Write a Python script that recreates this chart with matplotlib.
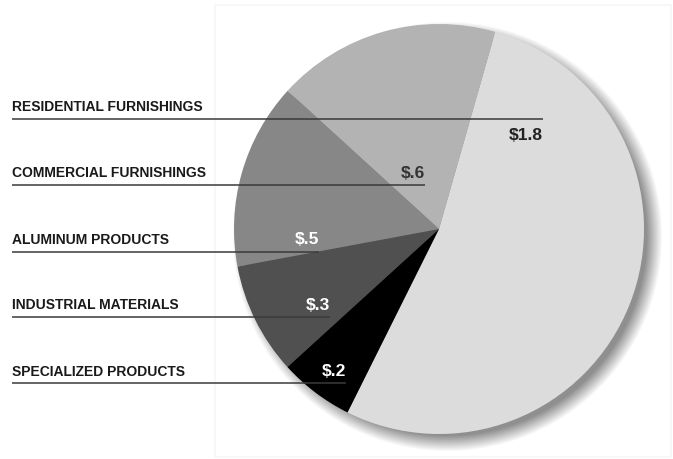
import matplotlib.pyplot as plt
import numpy as np
from matplotlib.patches import Rectangle

# segment data ($ billions)
categories = ["RESIDENTIAL FURNISHINGS", "COMMERCIAL FURNISHINGS", "ALUMINUM PRODUCTS",
              "INDUSTRIAL MATERIALS", "SPECIALIZED PRODUCTS"]
values = [1.8, 0.6, 0.5, 0.3, 0.2]
value_labels = ["$1.8", "$.6", "$.5", "$.3", "$.2"]
colors = ["#dcdcdc", "#b3b3b3", "#878787", "#505050", "#000000"]

W, H = 673, 460
CX, CY, R = 439, 230, 205

fig = plt.figure(figsize=(W / 100, H / 100), dpi=100)
ax = fig.add_axes([0, 0, 1, 1])

# faint frame behind the pie
ax.add_patch(Rectangle((215, 2), 456, 452, facecolor="white", edgecolor="#f6f6f6", lw=1.2, zorder=0))

# soft drop shadow
yy, xx = np.mgrid[0:H, 0:W]
d = np.hypot(xx - (CX + 8), yy - (CY - 8))
blur = 16
a = np.clip((R + 2 - d) / blur + 0.5, 0, 1) * 0.55
shadow = np.zeros((H, W, 4))
shadow[..., :3] = 0.2
shadow[..., 3] = a
ax.imshow(shadow, extent=(0, W, 0, H), origin="lower", zorder=1, interpolation="bilinear")

ax.pie(values, colors=colors, startangle=-116.5, counterclock=True, center=(CX, CY), radius=R,
       wedgeprops=dict(linewidth=0, zorder=2), frame=True)
ax.set_xlim(0, W)
ax.set_ylim(0, H)
ax.set_aspect("equal")
ax.axis("off")

label_font = ["Liberation Sans", "DejaVu Sans"]

# leader lines: (text y, line y, line end x) in pixel rows from top
rows = [(107, 120, 543), (173, 186, 425), (240, 253, 319), (305, 318, 330), (372, 384, 346)]
val_colors = ["#222222", "#333333", "white", "white", "white"]

for i, (ty, ly, xe) in enumerate(rows):
    ax.text(12, H - ty, categories[i], fontsize=10, fontweight="bold", family=label_font,
            color="#1a1a1a", va="center", ha="left", zorder=5)
    ax.plot([12, xe], [H - ly, H - ly], color="#3a3a3a", lw=1.1, zorder=5,
            solid_capstyle="butt")
    vy = ly + 15 if i == 0 else ty
    ax.text(xe, H - vy, value_labels[i], fontsize=12.5, fontweight="bold", family=label_font,
            color=val_colors[i], va="center", ha="right", zorder=5)

fig.savefig("out.png", dpi=100)
